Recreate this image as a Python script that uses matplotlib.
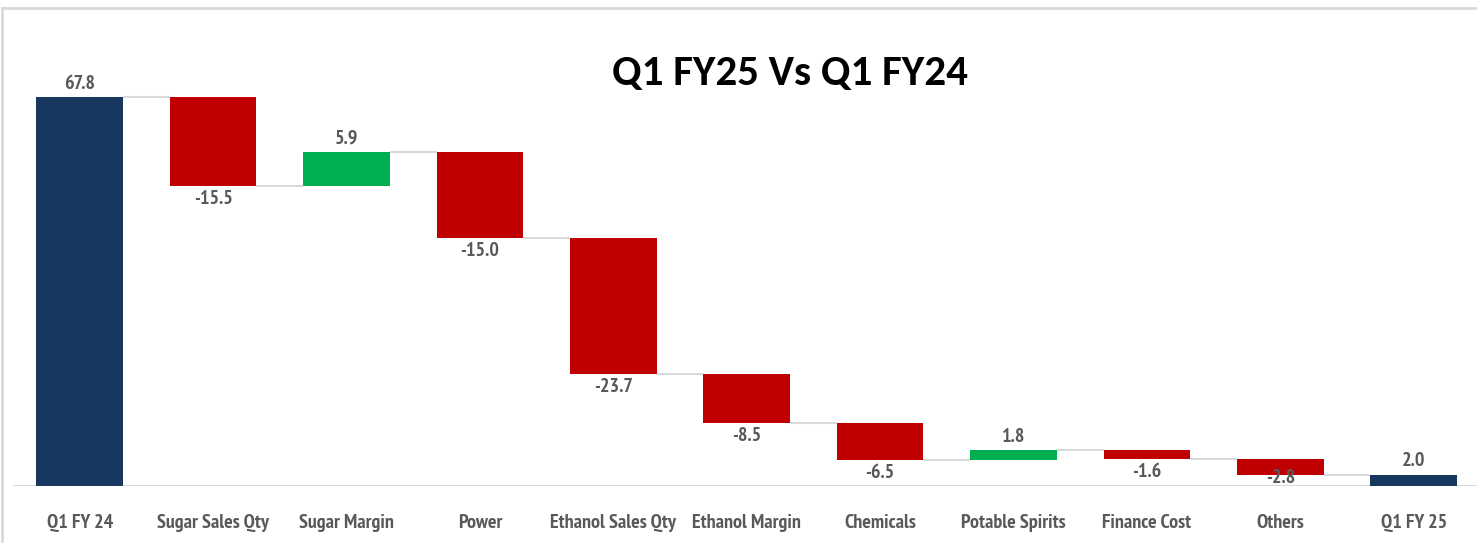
import matplotlib
matplotlib.use("Agg")
import matplotlib.pyplot as plt
from matplotlib import font_manager
import numpy as np

categories = ["Q1 FY 24", "Sugar Sales Qty", "Sugar Margin", "Power", "Ethanol Sales Qty",
              "Ethanol Margin", "Chemicals", "Potable Spirits", "Finance Cost", "Others", "Q1 FY 25"]
start_value = 67.8
changes = [-15.5, 5.9, -15.0, -23.7, -8.5, -6.5, 1.8, -1.6, -2.8]
end_value = 2.0
title = "Q1 FY25 Vs Q1 FY24"

names = {f.name for f in font_manager.fontManager.ttflist}


def pick(options):
    for o in options:
        if o in names:
            return o
    return "DejaVu Sans"


title_font = pick(["Carlito", "Open Sans", "DejaVu Sans"])
label_font = pick(["PT Sans Narrow", "Roboto Condensed", "Open Sans Condensed", "Asap Condensed",
                   "Archivo Narrow", "Carlito", "Open Sans"])

NAVY = "#17375E"
RED = "#C00000"
GREEN = "#00B050"
GREY_TXT = "#595959"
LINE = "#D9D9D9"

fig = plt.figure(figsize=(14.77, 5.43), dpi=100)
W, H = 1477, 543
ax = fig.add_axes([13 / W, (H - 486) / H, (W - 13) / W, (486 - 20) / H])

x = np.arange(len(categories))
bw = 0.65
bottoms, heights, colors, labels = [], [], [], []
bottoms.append(0); heights.append(start_value); colors.append(NAVY); labels.append(start_value)
level = start_value
levels = [level]
for c in changes:
    if c >= 0:
        bottoms.append(level); heights.append(c); colors.append(GREEN)
    else:
        bottoms.append(level + c); heights.append(-c); colors.append(RED)
    labels.append(c)
    level += c
    levels.append(level)
bottoms.append(0); heights.append(end_value); colors.append(NAVY); labels.append(end_value)
levels.append(end_value)

ax.bar(x, heights, bottom=bottoms, width=bw, color=colors, zorder=3)

# connectors
for i in range(len(categories) - 1):
    ax.plot([x[i] + bw / 2, x[i + 1] - bw / 2], [levels[i], levels[i]],
            color=LINE, lw=1.5, zorder=2, solid_capstyle="butt")

FS = 14.5
LABEL_FLOOR = 3.7  # negative labels are kept above the category axis
# value labels
for i, v in enumerate(labels):
    if v >= 0:
        y = bottoms[i] + heights[i]
        ax.annotate(f"{v:.1f}", (x[i], y), xytext=(0, 3), textcoords="offset points",
                    ha="center", va="bottom", fontsize=FS, fontweight="bold",
                    color=GREY_TXT, family=label_font, zorder=4)
    else:
        y = max(bottoms[i], LABEL_FLOOR)
        ax.annotate(f"{v:.1f}", (x[i], y), xytext=(0, -3), textcoords="offset points",
                    ha="center", va="top", fontsize=FS, fontweight="bold",
                    color=GREY_TXT, family=label_font, zorder=4)

ax.axhline(0, color=LINE, lw=1.5, zorder=1)
ax.set_xlim(-0.5, -0.5 + (W - 13) / 133.4)
ax.set_ylim(0, (486 - 20) / 5.737)
ax.set_xticks(x)
ax.set_xticklabels(categories, fontsize=FS, fontweight="bold", color=GREY_TXT, family=label_font)
ax.tick_params(axis="x", length=0, pad=20)
ax.set_yticks([])
for s in ax.spines.values():
    s.set_visible(False)

fig.text(790 / W, 1 - 73 / H, title, ha="center", va="center", fontsize=31,
         fontweight="bold", color="black", family=title_font)

# outer frame (top and left)
fig.add_artist(plt.Line2D([2 / W, 1], [1 - 8 / H, 1 - 8 / H], transform=fig.transFigure,
                          color="#D9D9D9", lw=2))
fig.add_artist(plt.Line2D([2 / W, 2 / W], [0, 1 - 8 / H], transform=fig.transFigure,
                          color="#D9D9D9", lw=2))

fig.savefig("out.png", dpi=100)
